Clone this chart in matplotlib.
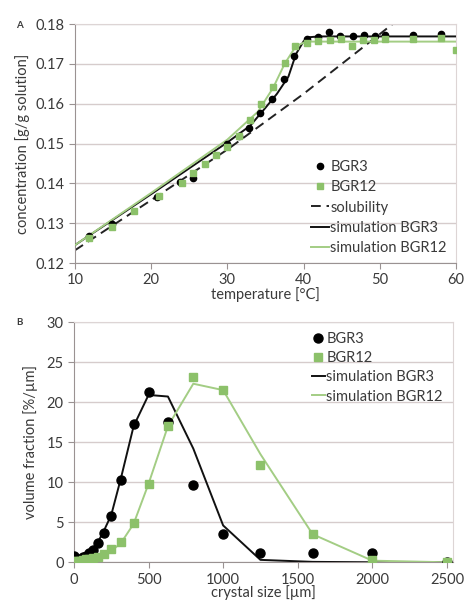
import numpy as np
from matplotlib import pyplot as plt

plt.rcParams['font.family'] = ['Lato', 'DejaVu Sans']

# ---- panel A data (temperature vs concentration)
t_bgr3 = [11.8, 14.9, 20.8, 23.8, 25.5, 30.0, 31.5, 32.8, 34.3, 35.9, 37.4, 38.8,
          40.5, 41.9, 43.3, 44.8, 46.5, 47.9, 49.3, 50.7, 54.4, 58.0]
c_bgr3 = [0.1269, 0.1298, 0.1366, 0.1404, 0.1413, 0.1500, 0.1518, 0.1540, 0.1578,
          0.1611, 0.1661, 0.1720, 0.1762, 0.1768, 0.1781, 0.1770, 0.1771, 0.1772,
          0.1771, 0.1773, 0.1773, 0.1774]
t_bgr12 = [11.9, 14.9, 17.8, 21.0, 24.0, 25.5, 27.0, 28.5, 30.0, 31.5, 33.0, 34.4,
           36.0, 37.5, 38.9, 40.5, 41.9, 43.4, 44.9, 46.4, 47.8, 49.2, 50.7, 54.4,
           58.0, 60.0]
c_bgr12 = [0.1262, 0.1290, 0.1330, 0.1368, 0.1400, 0.1425, 0.1448, 0.1471, 0.1492,
           0.1520, 0.1560, 0.1599, 0.1643, 0.1703, 0.1745, 0.1753, 0.1757, 0.1759,
           0.1762, 0.1746, 0.1760, 0.1759, 0.1762, 0.1762, 0.1764, 0.1735]
t_sol = [10, 20, 30, 40, 50, 52.3]
c_sol = [0.1232, 0.1358, 0.1485, 0.1625, 0.1775, 0.1810]
t_sim3 = [10, 20, 30, 33, 35, 36.5, 38, 39, 40, 40.7, 42, 60]
c_sim3 = [0.1245, 0.1373, 0.1503, 0.1545, 0.1590, 0.1625, 0.1668, 0.1725, 0.1757,
          0.1767, 0.1769, 0.1769]
t_sim12 = [10, 20, 30, 34, 36, 37.5, 39, 40, 41, 60]
c_sim12 = [0.1245, 0.1376, 0.1510, 0.1580, 0.1640, 0.1700, 0.1745, 0.1753, 0.1756,
           0.1756]

# ---- panel B data (crystal size distribution)
size = [0, 20, 40, 63, 80, 100, 125, 160, 200, 250, 315, 400, 500, 630, 800, 1000,
        1250, 1600, 2000, 2500]
v_bgr3 = [0.8, 0.4, 0.4, 0.6, 0.8, 1.1, 1.5, 2.4, 3.7, 5.8, 10.3, 17.3, 21.3, 17.5,
          9.7, 3.5, 1.1, 1.1, 1.1, 0.0]
v_bgr12 = [0.2, 0.2, 0.2, 0.3, 0.35, 0.45, 0.5, 0.7, 1.0, 1.6, 2.5, 4.9, 9.8, 17.0,
           23.2, 21.5, 12.1, 3.5, 0.3, 0.0]
v_sim3 = [0.6, 0.5, 0.6, 0.8, 1.0, 1.3, 1.7, 2.5, 3.9, 5.9, 10.5, 17.0, 20.9, 20.7,
          14.2, 4.6, 0.3, 0.05, 0.0, 0.0]
v_sim12 = [0.1, 0.1, 0.1, 0.15, 0.2, 0.3, 0.4, 0.6, 0.9, 1.4, 2.4, 4.8, 9.8, 17.0,
           22.3, 21.5, 13.5, 3.5, 0.2, 0.0]

green = '#8cc16a'
lgreen = '#a3cd84'
gridc = '#d6cccc'
txt = '#3a3a3a'

fig = plt.figure(figsize=(4.65, 6.02), dpi=100)

def style(ax):
    ax.grid(axis='y', color=gridc, linewidth=1.0)
    ax.set_axisbelow(True)
    for s in ['top', 'right']:
        ax.spines[s].set_color('#ddd5d5')
    ax.spines['left'].set_color('#9a9292')
    ax.spines['bottom'].set_color('#9a9292')
    ax.tick_params(direction='out', length=4, color='#9a9292', labelcolor=txt,
                   labelsize=10.5)

# panel A
ax1 = fig.add_axes([0.161, 0.563, 0.820, 0.397])
ax1.plot(t_sol, c_sol, color='#222222', linestyle=(0, (5, 3)), linewidth=1.4,
         label='solubility', zorder=2)
ax1.plot(t_sim3, c_sim3, color='#111111', linewidth=1.4, label='simulation BGR3', zorder=3)
ax1.plot(t_sim12, c_sim12, color=lgreen, linewidth=1.4, label='simulation BGR12', zorder=3)
ax1.plot(t_bgr3, c_bgr3, 'o', color='black', markersize=4.5, label='BGR3', zorder=4)
ax1.plot(t_bgr12, c_bgr12, 's', color=green, markersize=4.5, label='BGR12', zorder=4)
ax1.set_xlim(10, 60)
ax1.set_ylim(0.12, 0.18)
ax1.set_xticks([10, 20, 30, 40, 50, 60])
ax1.set_yticks(np.arange(0.12, 0.1801, 0.01))
ax1.set_yticklabels(['0.12', '0.13', '0.14', '0.15', '0.16', '0.17', '0.18'])
style(ax1)
ax1.set_xlabel('temperature [°C]', fontsize=10.5, color=txt, labelpad=0)
ax1.set_ylabel('concentration [g/g solution]', fontsize=10.5, color=txt, labelpad=4)
h, l = ax1.get_legend_handles_labels()
order = [3, 4, 0, 1, 2]
ax1.legend([h[i] for i in order], [l[i] for i in order], loc='lower right',
           bbox_to_anchor=(1.0, -0.005), frameon=False, fontsize=10.5,
           handlelength=1.2, handletextpad=0.1, labelspacing=0.42,
           borderaxespad=0.25, labelcolor=txt)
fig.text(0.035, 0.958, 'A', fontsize=7, fontweight='bold', color=txt, va='center')

# panel B
ax2 = fig.add_axes([0.159, 0.066, 0.815, 0.399])
ax2.plot(size, v_sim3, color='#111111', linewidth=1.4, label='simulation BGR3', zorder=3)
ax2.plot(size, v_sim12, color=lgreen, linewidth=1.4, label='simulation BGR12', zorder=3)
ax2.plot(size, v_bgr3, 'o', color='black', markersize=6.5, label='BGR3', zorder=4)
ax2.plot(size, v_bgr12, 's', color=green, markersize=6, label='BGR12', zorder=4)
ax2.set_xlim(0, 2540)
ax2.set_ylim(0, 30)
ax2.set_xticks([0, 500, 1000, 1500, 2000, 2500])
ax2.set_yticks([0, 5, 10, 15, 20, 25, 30])
style(ax2)
ax2.set_xlabel('crystal size [µm]', fontsize=10.5, color=txt, labelpad=-1)
ax2.set_ylabel('volume fraction [%/µm]', fontsize=10.5, color=txt, labelpad=6)
h, l = ax2.get_legend_handles_labels()
order = [2, 3, 0, 1]
ax2.legend([h[i] for i in order], [l[i] for i in order], loc='upper right',
           frameon=False, fontsize=10.5, handlelength=0.9, handletextpad=0.1,
           labelspacing=0.35, borderaxespad=0.3, labelcolor=txt)
fig.text(0.035, 0.464, 'B', fontsize=7, fontweight='bold', color=txt, va='center')

plt.savefig('out.png', dpi=100)
